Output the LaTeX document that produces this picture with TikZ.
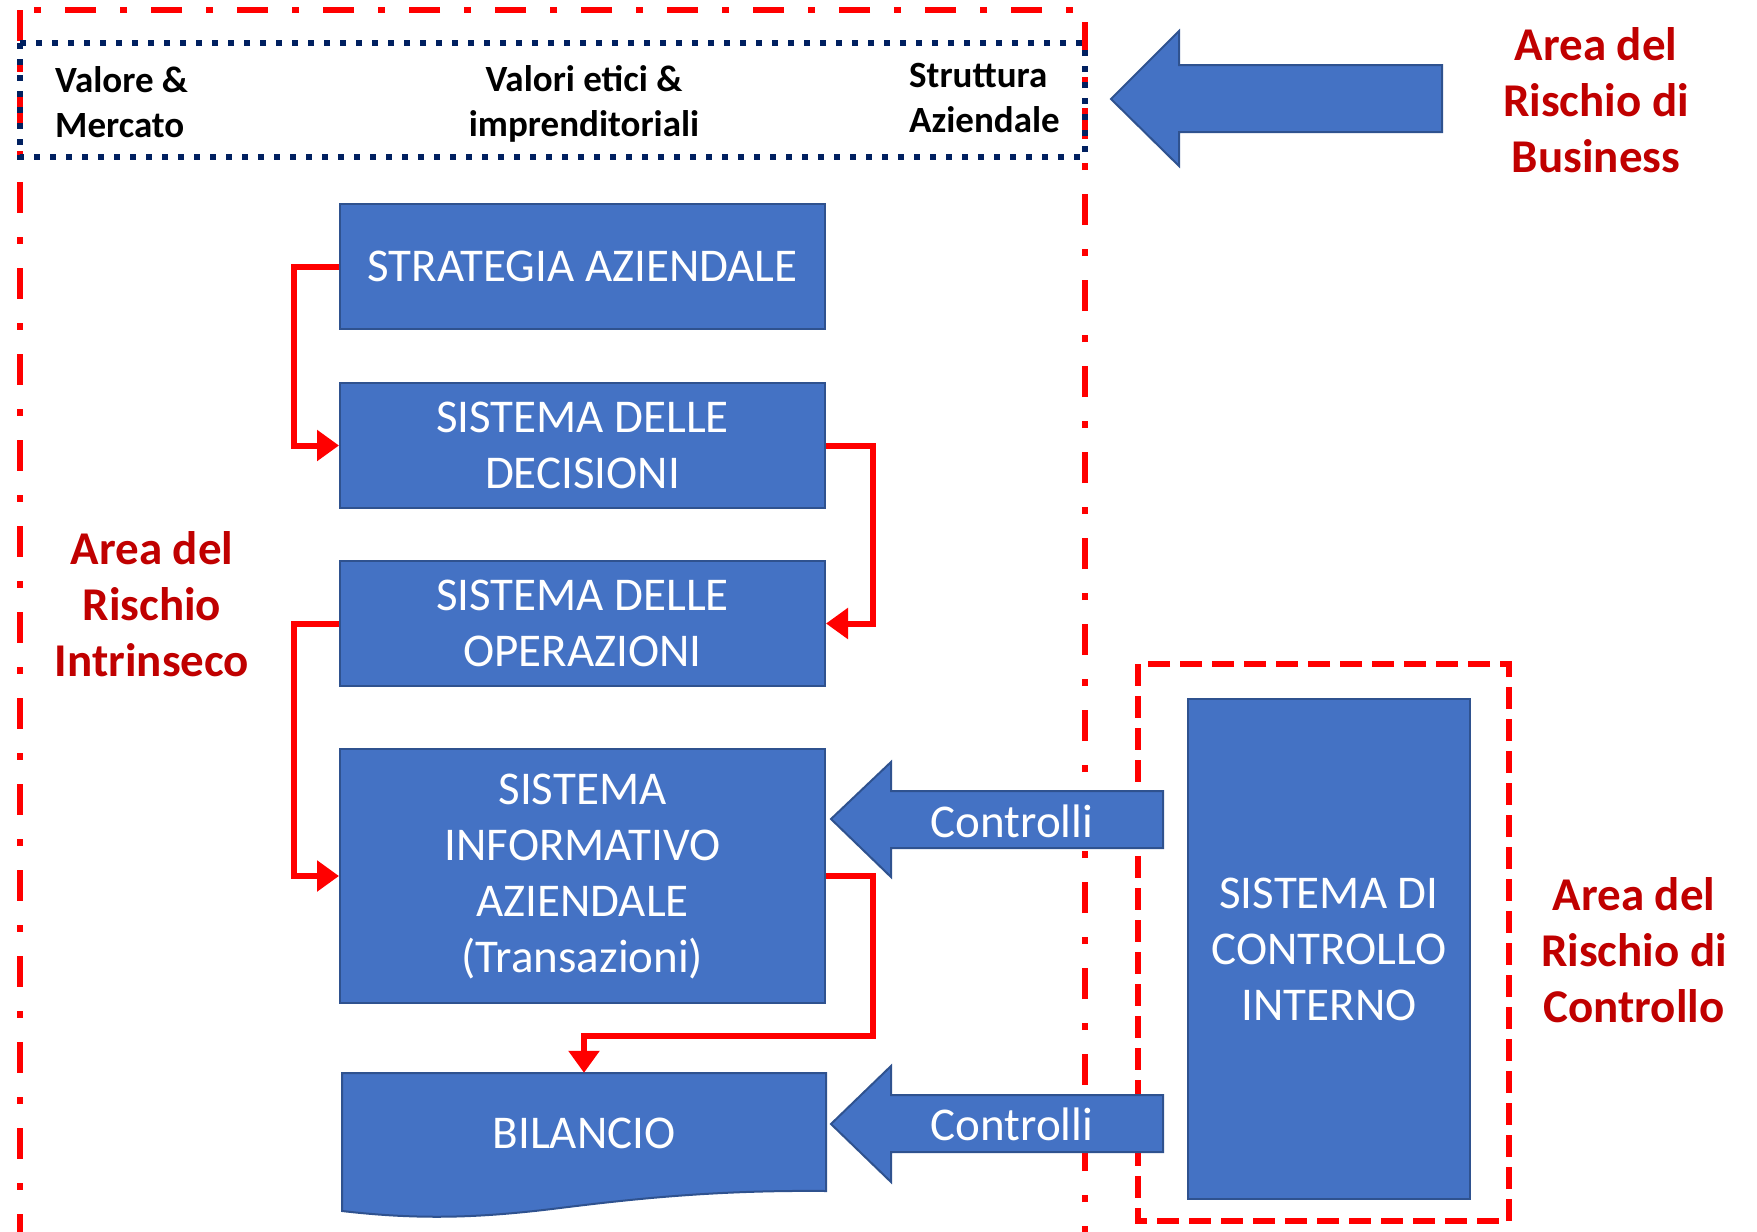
\documentclass[tikz,border=0pt]{standalone}
\usepackage{fontspec}
\setmainfont{Carlito}
\usetikzlibrary{arrows.meta}
\definecolor{boxblue}{HTML}{4472C4}
\definecolor{boxline}{HTML}{2F528F}
\definecolor{riskred}{HTML}{C00000}
\definecolor{navyblue}{HTML}{002060}
\tikzset{
    blue-box/.style = {draw=boxline, fill=boxblue, line width=2pt, rectangle, text=white, align=center, minimum width=485pt, minimum height=125pt, font=\fontsize{47}{56}\selectfont},
    blue-arrow/.style = {draw=boxline, fill=boxblue, line width=2pt, line join=miter},
    arrow-text/.style = {text=white, font=\fontsize{47}{56}\selectfont},
    flow-line/.style = {draw=red, line width=6pt, line join=miter, -{Triangle[length=22pt,width=30pt]}},
    risk-label/.style = {text=riskred, align=center, inner sep=0pt, font=\bfseries\fontsize{47}{56}\selectfont},
    head-label/.style = {text=black, inner sep=0pt, font=\bfseries\fontsize{37}{45}\selectfont},
    frame-dashdot/.style = {draw=red, line width=6.5pt, dash pattern=on 31pt off 24pt on 7pt off 24pt},
    frame-dots/.style = {draw=navyblue, line width=6pt, dash pattern=on 6pt off 10pt},
    frame-dashed/.style = {draw=red, line width=6pt, dash pattern=on 22pt off 10pt},
}
\begin{document}
\begin{tikzpicture}[x=1pt, y=-1pt]
\useasboundingbox (0,0) rectangle (1757,1232);

% areas of risk
\draw[frame-dashdot] (20,10) rectangle (1085,1262);
\draw[frame-dots] (20,43) rectangle (1085,157);
\draw[frame-dashed] (1138,664) rectangle (1509,1221);

\node[head-label, align=left, anchor=west] (valore) at (55,102) {Valore \&\\Mercato};
\node[head-label, align=center] (valori) at (584,104) {Valori etici \&\\imprenditoriali};
\node[head-label, align=left, anchor=west] (struttura) at (909,98) {Struttura\\Aziendale};

% process boxes
\node[blue-box] (strat) at (582.5,266.5) {STRATEGIA AZIENDALE};
\node[blue-box] (decis) at (582.5,445.5) {SISTEMA DELLE\\DECISIONI};
\node[blue-box] (operaz) at (582.5,623.5) {SISTEMA DELLE\\OPERAZIONI};
\node[blue-box, minimum height=254pt] (inform) at (582.5,876) {SISTEMA\\INFORMATIVO\\AZIENDALE\\(Transazioni)};

\draw[blue-arrow] (342,1073) -- (826,1073) -- (826,1191)
    .. controls (720,1190) and (640,1198) .. (560,1208)
    .. controls (480,1218) and (420,1220) .. (342,1211) -- cycle;
\node[arrow-text, minimum width=484pt, minimum height=120pt] (bilancio) at (584,1133) {BILANCIO};

\node[blue-box, minimum width=282pt, minimum height=500pt] (sci) at (1329,949) {SISTEMA DI\\CONTROLLO\\INTERNO};

% block arrows
\draw[blue-arrow] (1111,99) -- (1179,31) -- (1179,65) -- (1442,65) -- (1442,132) -- (1179,132) -- (1179,166) -- cycle;
\draw[blue-arrow] (831,819) -- (891,762) -- (891,791) -- (1163,791) -- (1163,848) -- (891,848) -- (891,877) -- cycle;
\draw[blue-arrow] (831,1124) -- (891,1066) -- (891,1095) -- (1163,1095) -- (1163,1152) -- (891,1152) -- (891,1182) -- cycle;
\node[arrow-text] (ctrl-a) at (1012,821) {Controlli};
\node[arrow-text] (ctrl-b) at (1012,1124) {Controlli};

% flow
\draw[flow-line] (strat.west) -- ++(-45,0) |- (decis.west);
\draw[flow-line] (decis.east) -- ++(47,0) |- (operaz.east);
\draw[flow-line] (operaz.west) -- ++(-45,0) |- (inform.west);
\draw[flow-line] (inform.east) -- ++(47,0) -- ++(0,160) -| (bilancio.north);

% labels
\node[risk-label] (rb) at (1596,100) {Area del\\Rischio di\\Business};
\node[risk-label] (ri) at (152,604) {Area del\\Rischio\\Intrinseco};
\node[risk-label] (rc) at (1634,950) {Area del\\Rischio di\\Controllo};
\end{tikzpicture}
\end{document}
